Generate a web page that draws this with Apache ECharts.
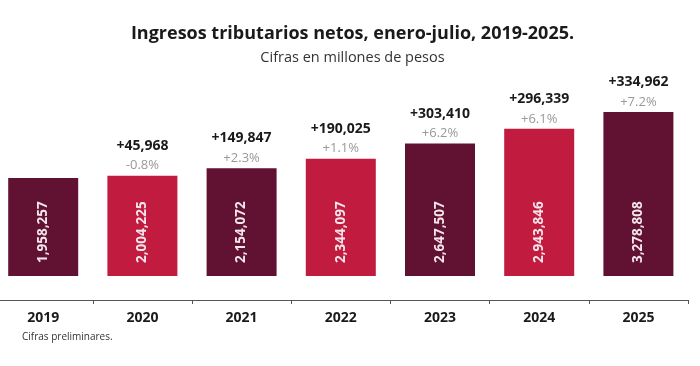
<!DOCTYPE html>
<html><head><meta charset="utf-8">
<script src="https://cdn.jsdelivr.net/npm/echarts@6/dist/echarts.min.js"></script>
<style>html,body{margin:0;padding:0;background:#fff;overflow:hidden}#c{width:707px;height:366px;margin-left:-7px}</style>
</head><body><div id="c"></div>
<script>
const years = ['2019','2020','2021','2022','2023','2024','2025'];
const values = [1958257, 2004225, 2154072, 2344097, 2647507, 2943846, 3278808];
const diffLabels = ['', '+45,968', '+149,847', '+190,025', '+303,410', '+296,339', '+334,962'];
const pctLabels = ['', '-0.8%', '+2.3%', '+1.1%', '+6.2%', '+6.1%', '+7.2%'];
const colors = ['#611232', '#c11b3f'];

const font = '"Open Sans","Noto Sans",sans-serif';
const chart = echarts.init(document.getElementById('c'));
chart.setOption({
  animation: false,
  textStyle: {fontFamily: font},
  title: {
    text: 'Ingresos tributarios netos, enero-julio, 2019-2025.',
    subtext: 'Cifras en millones de pesos',
    left: 354.5, textAlign: 'center', top: 20, itemGap: 7,
    textStyle: {fontFamily: font, fontSize: 18, fontWeight: 'bold', color: '#1a1a1a'},
    subtextStyle: {fontFamily: font, fontSize: 14.5, color: '#333'}
  },
  graphic: [{
    type: 'text', left: 29, top: 332,
    style: {text: 'Cifras preliminares.', fontFamily: font, fontSize: 10, fill: '#333'}
  }],
  grid: {left: 0.6, right: 12, top: 76, bottom: 66},
  xAxis: {
    type: 'category', data: years,
    axisLine: {onZero: false, lineStyle: {color: '#555', width: 1.2}},
    axisTick: {show: true, length: 4, lineStyle: {color: '#555'}},
    axisLabel: {fontFamily: font, fontSize: 14, fontWeight: 'bold', color: '#1a1a1a', margin: 11}
  },
  yAxis: {type: 'value', min: -480000, max: 4000000, show: false, splitLine: {show: false}},
  series: [{
    type: 'bar', barWidth: 70,
    data: values.map((v, i) => ({value: v, itemStyle: {color: colors[i % 2]}})),
    label: {
      show: true, position: 'insideBottom', rotate: 90, align: 'left', verticalAlign: 'middle',
      distance: 13, fontFamily: font, fontSize: 13.5, fontWeight: 'bold', color: '#f4e6ea',
      formatter: p => p.value.toLocaleString('en-US')
    }
  }, {
    type: 'bar', barWidth: 70, barGap: '-100%',
    data: values.map(v => ({value: v, itemStyle: {color: 'rgba(0,0,0,0)'}})),
    silent: true,
    label: {
      show: true, position: 'top', distance: 1,
      formatter: p => diffLabels[p.dataIndex] ? '{a|' + diffLabels[p.dataIndex] + '}\n{b|' + pctLabels[p.dataIndex] + '}' : '',
      rich: {
        a: {fontFamily: font, fontSize: 14, fontWeight: 'bold', color: '#1a1a1a', lineHeight: 22},
        b: {fontFamily: font, fontSize: 13, color: '#999', lineHeight: 18}
      }
    }
  }]
});
</script></body></html>
